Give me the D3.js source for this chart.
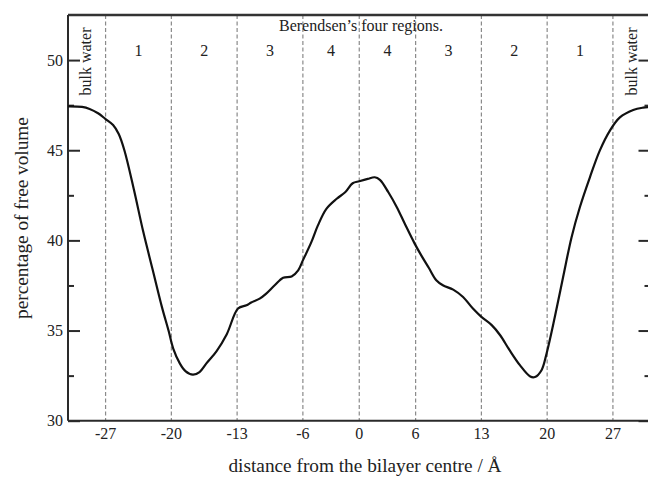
<!DOCTYPE html>
<html><head><meta charset="utf-8">
<script src="https://cdn.jsdelivr.net/npm/d3@7"></script>
<style>
html,body{margin:0;padding:0;background:#fff;}
svg{display:block;}
text{font-family:"Liberation Serif","Times New Roman",serif;fill:#222;}
</style></head>
<body>
<svg id="chart" width="648" height="477"></svg>
<script>
// ---- data ----
const distance = [-31, -29.5, -28.7, -27.8, -27, -26.2, -25.6, -25, -24, -23, -22, -21, -20.3, -19.8, -19.1, -18.5, -17.7, -17.0, -16.27, -15.2, -14.1, -12.9, -12.0, -11.5, -10.6, -9.9, -9.0, -8.1, -7.2, -6.5, -6.0, -5.1, -4.4, -3.5, -2.4, -1.5, -0.7, 0, 0.9, 1.65, 2.2, 3.1, 4.0, 4.85, 5.9, 6.6, 7.4, 8.2, 8.9, 10.0, 11.05, 12.1, 13.0, 14.1, 15.0, 16.0, 17.1, 18.2, 18.7, 19.4, 19.94, 20.82, 21.7, 22.6, 23.48, 24.55, 25.6, 26.68, 27.74, 29.16, 30.2, 31];
const freeVolume = [47.43, 47.40, 47.29, 47.05, 46.73, 46.40, 45.9, 45.0, 42.85, 40.5, 38.4, 36.3, 35.0, 34.0, 33.18, 32.75, 32.55, 32.7, 33.18, 33.85, 34.8, 36.22, 36.40, 36.55, 36.77, 37.05, 37.51, 37.93, 38.0, 38.34, 38.89, 39.9, 40.83, 41.75, 42.31, 42.67, 43.17, 43.28, 43.41, 43.50, 43.36, 42.67, 41.84, 40.92, 39.82, 39.17, 38.48, 37.79, 37.51, 37.27, 36.86, 36.22, 35.76, 35.3, 34.74, 33.91, 33.08, 32.45, 32.42, 32.8, 33.73, 35.76, 37.97, 40.18, 41.84, 43.50, 44.98, 46.09, 46.82, 47.23, 47.36, 47.40];
const boundaries = [-27, -20, -13, -6, 0, 6, 13, 20, 27];
const xTickLabels = ["-27", "-20", "-13", "-6", "0", "6", "13", "20", "27"];
const yMajorTicks = [30, 35, 40, 45, 50];
const yMinorTicks = [32.5, 37.5, 42.5, 47.5];
const regionLabels = ["1", "2", "3", "4", "4", "3", "2", "1"];
const titleText = "Berendsen\u2019s four regions.";
const bulkText = "bulk water";
const xTitle = "distance from the bilayer centre / \u00c5";
const yTitle = "percentage of free volume";

// ---- layout ----
const svg = d3.select("#chart");
const L = 68, R = 650.5, T = 15, B = 420.7;
const x = d3.scaleLinear().domain([-31, 31]).range([L, R]);
const y = d3.scaleLinear().domain([30, 52.5]).range([B, T]);
const axisColor = "#2a2a2a";

// dashed region boundaries
svg.append("g").selectAll("line").data(boundaries).join("line")
  .attr("x1", d => x(d)).attr("x2", d => x(d))
  .attr("y1", T).attr("y2", B)
  .attr("stroke", "#8a8a8a").attr("stroke-width", 1.2)
  .attr("stroke-dasharray", "4,2.5");

// left axis ticks
svg.append("g").attr("transform", `translate(${L},0)`)
  .call(d3.axisRight(y).tickValues(yMajorTicks).tickSize(12).tickFormat(""))
  .call(g => g.select(".domain").remove())
  .call(g => g.selectAll("line").attr("stroke", axisColor).attr("stroke-width", 2));
svg.append("g").attr("transform", `translate(${L},0)`)
  .call(d3.axisRight(y).tickValues(yMinorTicks).tickSize(6).tickFormat(""))
  .call(g => g.select(".domain").remove())
  .call(g => g.selectAll("line").attr("stroke", axisColor).attr("stroke-width", 2));
// left tick labels
svg.append("g").selectAll("text").data(yMajorTicks).join("text")
  .attr("x", L - 5).attr("y", d => y(d) + 5.5)
  .attr("text-anchor", "end").attr("font-size", 16).text(d => d);

// right axis ticks
svg.append("g").attr("transform", `translate(${R},0)`)
  .call(d3.axisLeft(y).tickValues(yMajorTicks).tickSize(12).tickFormat(""))
  .call(g => g.select(".domain").remove())
  .call(g => g.selectAll("line").attr("stroke", axisColor).attr("stroke-width", 2));
svg.append("g").attr("transform", `translate(${R},0)`)
  .call(d3.axisLeft(y).tickValues(yMinorTicks).tickSize(6).tickFormat(""))
  .call(g => g.select(".domain").remove())
  .call(g => g.selectAll("line").attr("stroke", axisColor).attr("stroke-width", 2));

// frame lines
svg.append("line").attr("x1", L).attr("x2", R).attr("y1", T).attr("y2", T)
  .attr("stroke", "#333").attr("stroke-width", 2.5);
svg.append("line").attr("x1", L).attr("x2", R).attr("y1", B).attr("y2", B)
  .attr("stroke", axisColor).attr("stroke-width", 2);
svg.append("line").attr("x1", L).attr("x2", L).attr("y1", T).attr("y2", B)
  .attr("stroke", axisColor).attr("stroke-width", 2);

// bottom tick labels
svg.append("g").selectAll("text").data(boundaries).join("text")
  .attr("x", d => x(d)).attr("y", 438.5)
  .attr("text-anchor", "middle").attr("font-size", 16)
  .text((d, i) => xTickLabels[i]);

// curve
const pts = distance.map((d, i) => [d, freeVolume[i]]);
svg.append("path").datum(pts)
  .attr("d", d3.line().x(d => x(d[0])).y(d => y(d[1])).curve(d3.curveCatmullRom.alpha(0.5)))
  .attr("fill", "none").attr("stroke", "#111").attr("stroke-width", 2.2)
  .attr("stroke-linejoin", "round");

// region labels
const regionCenters = boundaries.slice(0, -1).map((b, i) => (b + boundaries[i + 1]) / 2);
svg.append("g").selectAll("text").data(regionLabels).join("text")
  .attr("x", (d, i) => x(regionCenters[i])).attr("y", 56)
  .attr("text-anchor", "middle").attr("font-size", 16).text(d => d);

// title
svg.append("text").attr("x", 361).attr("y", 30.5)
  .attr("text-anchor", "middle").attr("font-size", 16).text(titleText);

// bulk water labels
[ -29.05, 29.0 ].forEach(v => {
  svg.append("text")
    .attr("transform", `translate(${x(v) + 5},61.5) rotate(-90)`)
    .attr("text-anchor", "middle").attr("font-size", 16).text(bulkText);
});

// axis titles
svg.append("text").attr("x", 365).attr("y", 471.5)
  .attr("text-anchor", "middle").attr("font-size", 19.3).text(xTitle);
svg.append("text").attr("transform", `translate(28,218) rotate(-90)`)
  .attr("text-anchor", "middle").attr("font-size", 19.3).text(yTitle);
</script>
</body></html>
